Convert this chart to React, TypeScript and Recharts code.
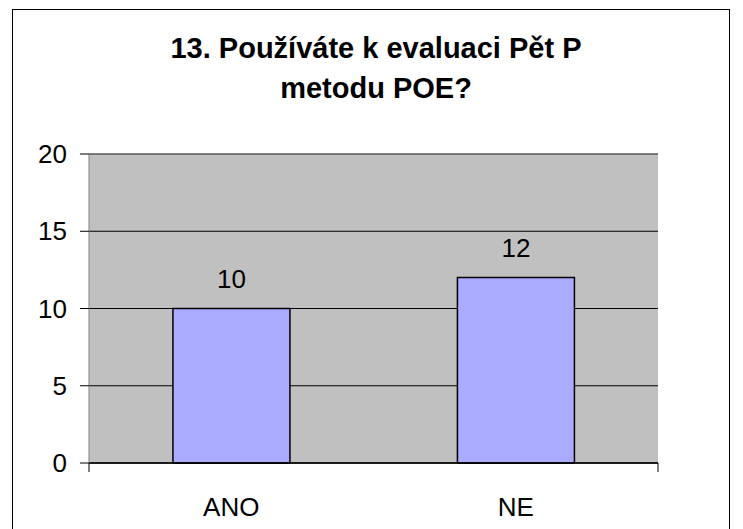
import React from "react";
import {
  BarChart,
  Bar,
  XAxis,
  YAxis,
  CartesianGrid,
  LabelList,
  ReferenceLine,
} from "recharts";

const categories = ["ANO", "NE"];
const answers = [10, 12];
const yTicks = [0, 5, 10, 15, 20];
const edgeTicks = [0, 1, 2];

const data = categories.map((c, i) => ({ name: c, value: answers[i] }));

const font = "'Liberation Sans', Arial, sans-serif";

export default function App() {
  return (
    <div
      style={{
        position: "absolute",
        left: 0,
        top: 0,
        width: 743,
        height: 529,
        overflow: "hidden",
        background: "#fff",
        fontFamily: font,
      }}
    >
      <div
        style={{
          position: "absolute",
          left: 12,
          top: 9,
          width: 716,
          height: 600,
          border: "1px solid #000",
        }}
      />
      <div
        style={{
          position: "absolute",
          left: 0,
          top: 28,
          width: 752,
          textAlign: "center",
          fontSize: 29,
          fontWeight: "bold",
          lineHeight: "40px",
          color: "#000",
        }}
      >
        13. Používáte k evaluaci Pět P
        <br />
        metodu POE?
      </div>
      <div style={{ position: "absolute", left: 0, top: 0 }}>
        <BarChart
          width={743}
          height={529}
          data={data}
          margin={{ top: 154, right: 85, bottom: 0, left: 0 }}
          barCategoryGap="29.5%"
        >
          <CartesianGrid vertical={false} stroke="#000" fill="#C0C0C0" />
          <XAxis
            type="number"
            domain={[0, 2]}
            ticks={edgeTicks}
            tickFormatter={() => ""}
            height={10}
            tickSize={9}
            stroke="#000"
            tickLine={{ stroke: "#000" }}
            axisLine={{ stroke: "#000", strokeWidth: 1.5 }}
          />
          <XAxis
            xAxisId="cat"
            dataKey="name"
            height={56}
            tickSize={0}
            tickMargin={25}
            axisLine={false}
            tickLine={false}
            tick={{ fill: "#000", fontSize: 26, fontFamily: font }}
          />
          <YAxis
            domain={[0, 20]}
            ticks={yTicks}
            width={89}
            tickSize={9}
            tickMargin={13}
            axisLine={{ stroke: "#808080" }}
            tickLine={{ stroke: "#000" }}
            tick={{ fill: "#000", fontSize: 26, fontFamily: font }}
          />
          <YAxis
            yAxisId="right"
            orientation="right"
            domain={[0, 20]}
            width={0}
            tick={false}
            tickLine={false}
            axisLine={{ stroke: "#808080" }}
          />
          <ReferenceLine y={20} stroke="#808080" />
          <Bar
            xAxisId="cat"
            dataKey="value"
            fill="#AAAAFF"
            stroke="#000"
            strokeWidth={1.5}
            isAnimationActive={false}
          >
            <LabelList
              dataKey="value"
              position="top"
              offset={21}
              fill="#000"
              fontSize={26}
              fontFamily={font}
            />
          </Bar>
        </BarChart>
      </div>
    </div>
  );
}
